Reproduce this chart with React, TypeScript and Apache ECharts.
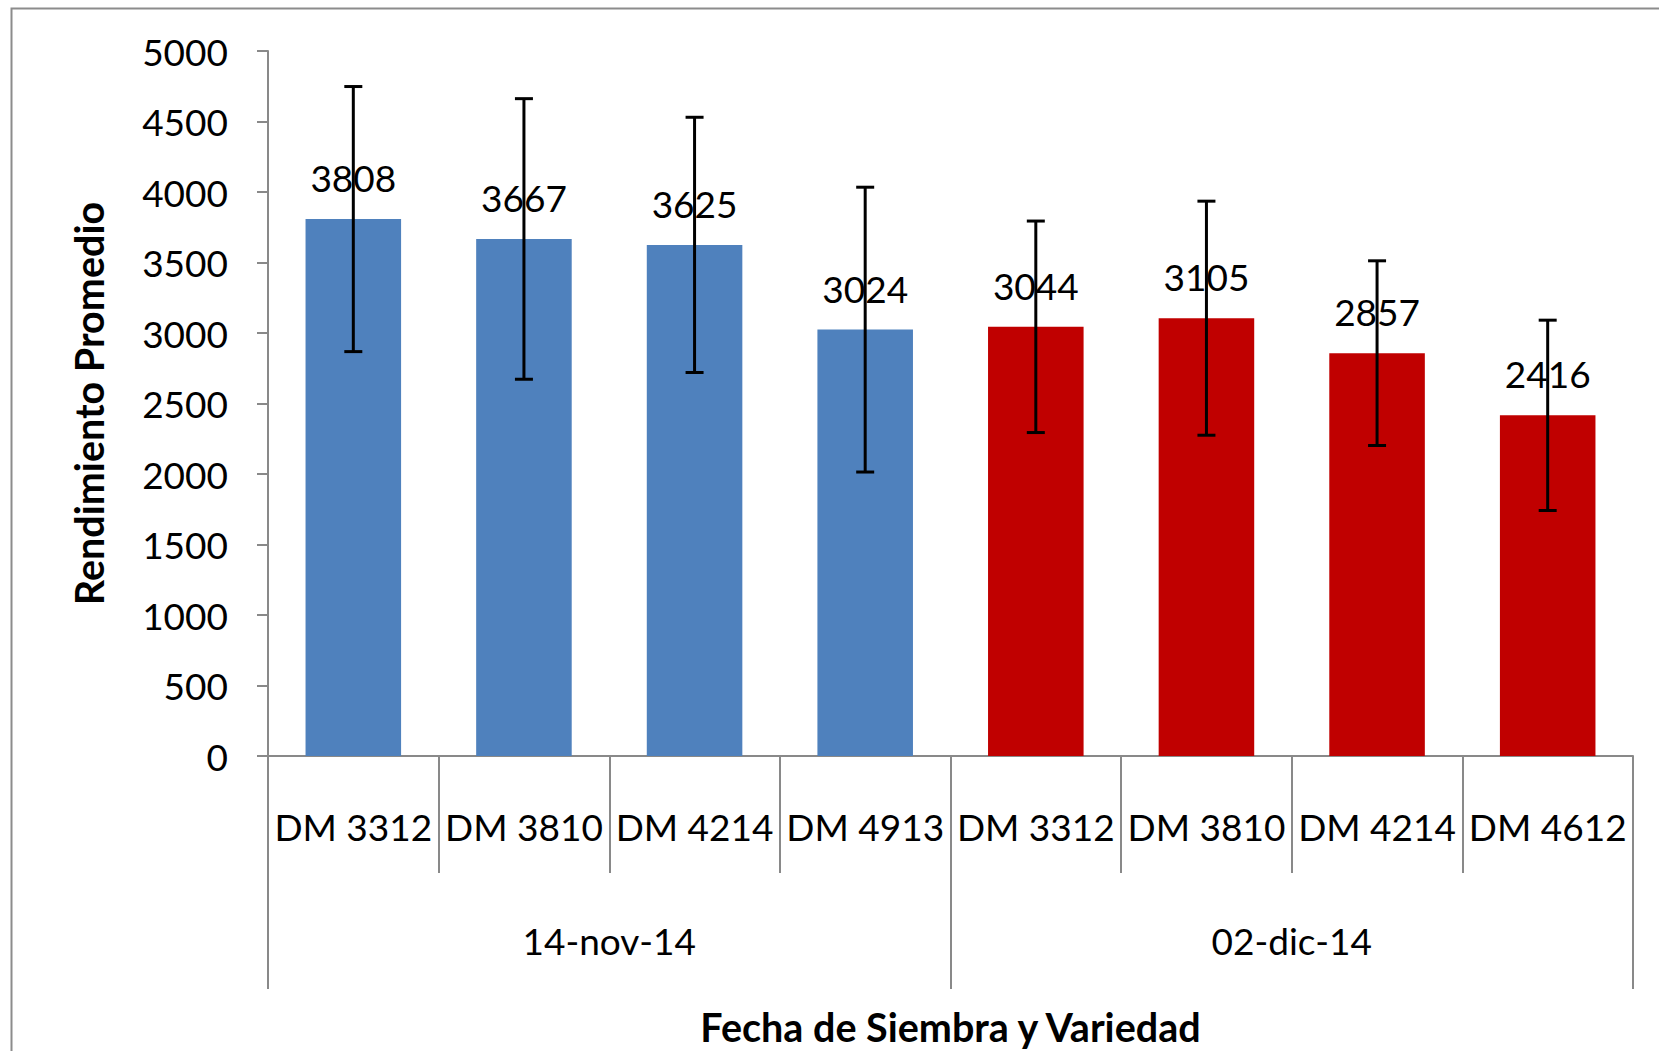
import React, { useEffect, useRef } from "react";
import * as echarts from "echarts";

const varieties = ["DM 3312", "DM 3810", "DM 4214", "DM 4913", "DM 3312", "DM 3810", "DM 4214", "DM 4612"];
const groups = ["14-nov-14", "02-dic-14"];
const groupOfBar = [0, 0, 0, 0, 1, 1, 1, 1];
const means = [3808, 3667, 3625, 3024, 3044, 3105, 2857, 2416];
const errors = [940, 995, 905, 1010, 750, 830, 655, 675];
const groupColors = ["#4F81BD", "#C00000"];
const yTicksMax = 5000;
const yInterval = 500;

const FONT = "Lato";
const AXIS_GRAY = "#898989";

export default function App() {
  const ref = useRef<HTMLDivElement>(null);

  useEffect(() => {
    document.body.style.margin = "0";
    const chart = echarts.init(ref.current!, null, { renderer: "svg" });

    const barData = means.map((v, i) => ({
      value: v,
      itemStyle: { color: groupColors[groupOfBar[i]] },
    }));
    const errData = means.map((v, i) => [i, v - errors[i], v + errors[i]]);

    chart.setOption({
      animation: false,
      backgroundColor: "#ffffff",
      textStyle: { fontFamily: FONT },
      graphic: [
        {
          type: "rect",
          left: 9,
          top: 6,
          shape: { x: 0, y: 0, width: 1720, height: 1120 },
          style: { fill: "none", stroke: "#8c8c8c", lineWidth: 2 },
          silent: true,
        },
      ],
      grid: { left: 268, right: 26, top: 51, bottom: 289, containLabel: false },
      xAxis: [
        {
          type: "category",
          data: varieties,
          position: "bottom",
          axisLine: { show: true, onZero: false, lineStyle: { color: AXIS_GRAY, width: 2 } },
          axisTick: { show: true, interval: 0, length: 117, lineStyle: { color: AXIS_GRAY, width: 2 } },
          axisLabel: { interval: 0, margin: 52, fontSize: 37, color: "#000", fontFamily: FONT },
          splitLine: { show: false },
        },
        {
          type: "category",
          data: groups,
          position: "bottom",
          axisLine: { show: false, onZero: false },
          axisTick: { show: true, interval: 0, length: 233, lineStyle: { color: AXIS_GRAY, width: 2 } },
          axisLabel: { interval: 0, margin: 166, fontSize: 37, color: "#000", fontFamily: FONT },
          splitLine: { show: false },
          name: "Fecha de Siembra y Variedad",
          nameLocation: "middle",
          nameGap: 250,
          nameTextStyle: { fontSize: 39.5, fontWeight: "bold", color: "#000", fontFamily: FONT },
        },
      ],
      yAxis: {
        type: "value",
        min: 0,
        max: yTicksMax,
        interval: yInterval,
        axisLine: { show: true, lineStyle: { color: AXIS_GRAY, width: 2 } },
        axisTick: { show: true, length: 11, lineStyle: { color: AXIS_GRAY, width: 2 } },
        axisLabel: {
          margin: 40,
          fontSize: 37,
          color: "#000",
          fontFamily: FONT,
          formatter: (v: number) => String(v),
        },
        splitLine: { show: false },
        name: "Rendimiento Promedio",
        nameLocation: "middle",
        nameGap: 160,
        nameTextStyle: { fontSize: 39.5, fontWeight: "bold", color: "#000", fontFamily: FONT },
      },
      series: [
        {
          type: "bar",
          xAxisIndex: 0,
          yAxisIndex: 0,
          data: barData,
          barWidth: "56%",
          label: {
            show: true,
            position: "top",
            distance: 23,
            fontSize: 37,
            color: "#000",
            fontFamily: FONT,
          },
          z: 2,
        },
        {
          type: "custom",
          xAxisIndex: 0,
          yAxisIndex: 0,
          data: errData,
          encode: { x: 0, y: [1, 2] },
          z: 10,
          renderItem: (params: any, api: any) => {
            const idx = api.value(0);
            const lo = api.coord([idx, api.value(1)]);
            const hi = api.coord([idx, api.value(2)]);
            const half = 9;
            const style = { stroke: "#000", lineWidth: 3 };
            return {
              type: "group",
              children: [
                { type: "line", shape: { x1: lo[0], y1: lo[1], x2: hi[0], y2: hi[1] }, style },
                { type: "line", shape: { x1: lo[0] - half, y1: lo[1], x2: lo[0] + half, y2: lo[1] }, style },
                { type: "line", shape: { x1: hi[0] - half, y1: hi[1], x2: hi[0] + half, y2: hi[1] }, style },
              ],
            };
          },
        },
      ],
    });

    return () => chart.dispose();
  }, []);

  return <div ref={ref} style={{ width: 1659, height: 1051 }} />;
}
